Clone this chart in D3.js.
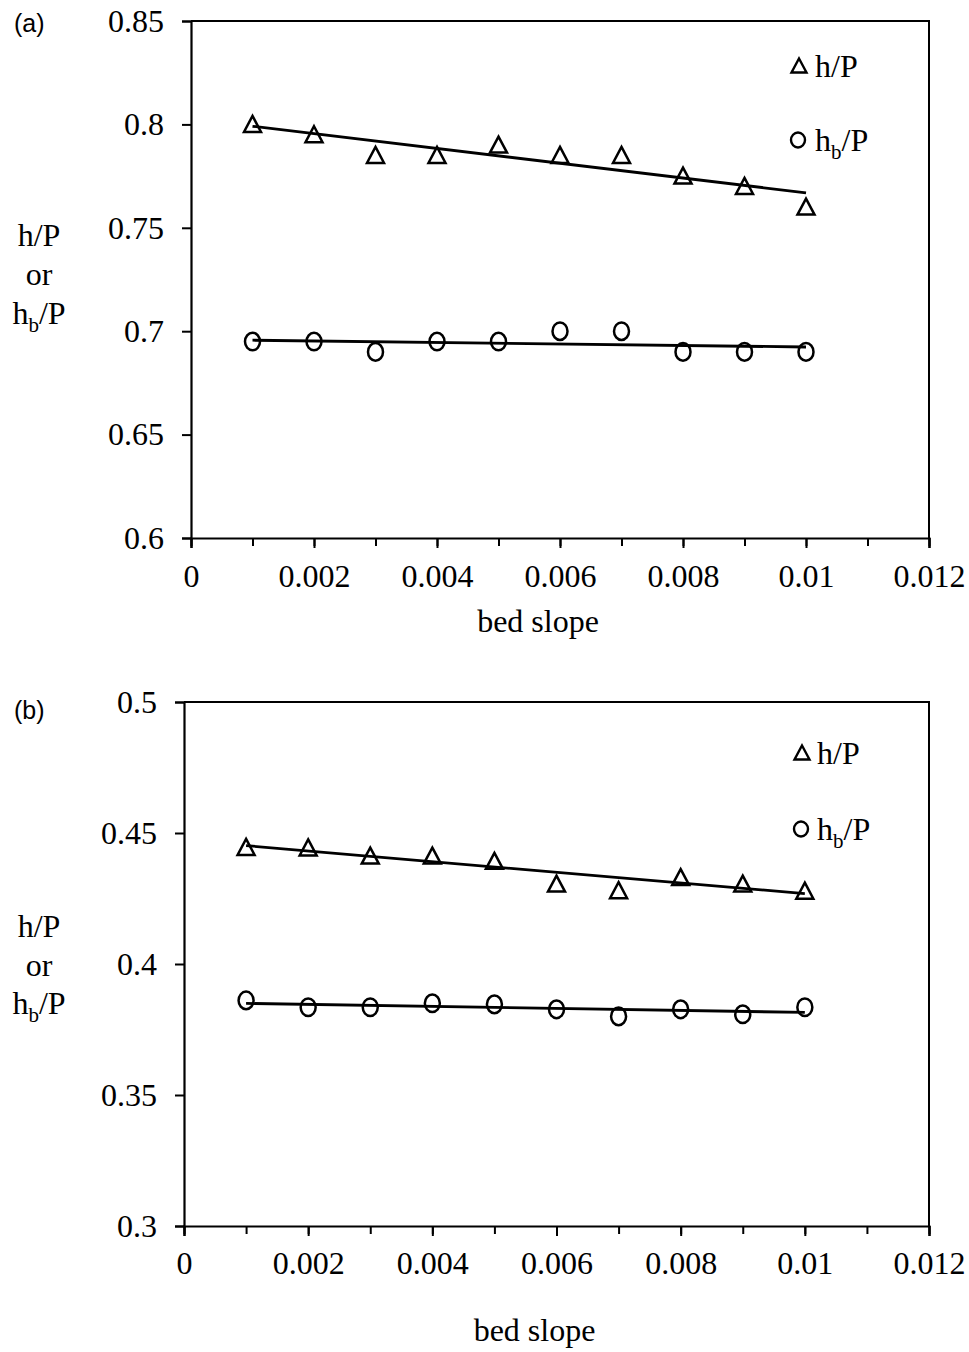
<!DOCTYPE html>
<html>
<head>
<meta charset="utf-8">
<script src="https://cdn.jsdelivr.net/npm/d3@7/dist/d3.min.js"></script>
<style>
  html, body { margin: 0; padding: 0; background: #fff; }
  svg { display: block; }
  .serif { font-family: "Liberation Serif", "Times New Roman", serif; fill: #000; }
</style>
</head>
<body>
<svg id="chart" width="969" height="1352"></svg>
<script>
// ---- data ----
const bedSlope = [0.001, 0.002, 0.003, 0.004, 0.005, 0.006, 0.007, 0.008, 0.009, 0.010];
const xTicks = [0, 0.002, 0.004, 0.006, 0.008, 0.01, 0.012];
const xTickLabels = ["0", "0.002", "0.004", "0.006", "0.008", "0.01", "0.012"];

// panel (a)
const aHP  = [0.800, 0.795, 0.785, 0.785, 0.790, 0.785, 0.785, 0.775, 0.770, 0.760];
const aHbP = [0.695, 0.695, 0.690, 0.695, 0.695, 0.700, 0.700, 0.690, 0.690, 0.690];
const aYTicks = [0.6, 0.65, 0.7, 0.75, 0.8, 0.85];
const aYTickLabels = ["0.6", "0.65", "0.7", "0.75", "0.8", "0.85"];

// panel (b)
const bHP  = [0.4445, 0.4443, 0.4412, 0.4412, 0.4392, 0.4305, 0.4280, 0.4330, 0.4305, 0.4278];
const bHbP = [0.3861, 0.3835, 0.3835, 0.3850, 0.3846, 0.3827, 0.3800, 0.3827, 0.3808, 0.3835];
const bYTicks = [0.3, 0.35, 0.4, 0.45, 0.5];
const bYTickLabels = ["0.3", "0.35", "0.4", "0.45", "0.5"];

const SERIF = '"Liberation Serif", "Times New Roman", serif';
const svg = d3.select("#chart");

function linFit(xs, ys) {
  const n = xs.length;
  const mx = d3.mean(xs), my = d3.mean(ys);
  let sxy = 0, sxx = 0;
  for (let i = 0; i < n; i++) { sxy += (xs[i]-mx)*(ys[i]-my); sxx += (xs[i]-mx)*(xs[i]-mx); }
  const b = sxy / sxx;
  const a = my - b * mx;
  return x => a + b * x;
}

function triPath(cx, cy, w, h) {
  return `M${cx},${cy - h/2 - 1}L${cx + w/2},${cy + h/2}L${cx - w/2},${cy + h/2}Z`;
}

function panel(opts) {
  const g = svg.append("g");
  const x = d3.scaleLinear().domain([0, 0.012]).range([opts.left, opts.right]);
  const y = d3.scaleLinear().domain(opts.yDomain).range([opts.bottom, opts.top]);

  // frame top and right
  g.append("path")
    .attr("d", `M${opts.left},${opts.top}H${opts.right}V${opts.bottom}`)
    .attr("fill", "none").attr("stroke", "#000").attr("stroke-width", 2);

  // y axis
  const yAxis = d3.axisLeft(y).tickValues(opts.yTicks)
    .tickFormat((d, i) => opts.yTickLabels[i]).tickSize(9).tickPadding(18);
  const ya = g.append("g").attr("transform", `translate(${opts.left},0)`).call(yAxis)
    .attr("font-family", SERIF).attr("font-size", 32);
  ya.select(".domain").attr("stroke-width", 2.2);
  ya.selectAll(".tick line").attr("stroke-width", 2);
  ya.selectAll("text").attr("font-family", SERIF).attr("font-size", 32).attr("fill", "#000");

  // x axis: minor ticks
  const minor = d3.range(0, 0.0121, 0.001);
  const xMinor = d3.axisBottom(x).tickValues(minor).tickFormat("").tickSize(8);
  const xm = g.append("g").attr("transform", `translate(0,${opts.bottom})`).call(xMinor);
  xm.select(".domain").remove();
  xm.selectAll(".tick line").attr("stroke-width", 2);

  const xAxis = d3.axisBottom(x).tickValues(xTicks)
    .tickFormat((d, i) => xTickLabels[i]).tickSize(10).tickPadding(opts.xPad);
  const xa = g.append("g").attr("transform", `translate(0,${opts.bottom})`).call(xAxis)
    .attr("font-family", SERIF).attr("font-size", 32);
  xa.select(".domain").attr("stroke-width", 2.2);
  xa.selectAll(".tick line").attr("stroke-width", 2);
  xa.selectAll("text").attr("font-family", SERIF).attr("font-size", 32).attr("fill", "#000");

  // trend lines
  [opts.hp, opts.hbp].forEach(vals => {
    const f = linFit(bedSlope, vals);
    g.append("line")
      .attr("x1", x(bedSlope[0])).attr("y1", y(f(bedSlope[0])))
      .attr("x2", x(bedSlope[bedSlope.length-1])).attr("y2", y(f(bedSlope[bedSlope.length-1])))
      .attr("stroke", "#000").attr("stroke-width", 2.8);
  });

  // markers
  g.selectAll(".tri").data(opts.hp).enter().append("path")
    .attr("d", (d, i) => triPath(x(bedSlope[i]), y(d), 17, 15))
    .attr("fill", "none").attr("stroke", "#000").attr("stroke-width", 2.5);
  g.selectAll(".circ").data(opts.hbp).enter().append("ellipse")
    .attr("cx", (d, i) => x(bedSlope[i])).attr("cy", d => y(d))
    .attr("rx", 7.5).attr("ry", 8.8)
    .attr("fill", "none").attr("stroke", "#000").attr("stroke-width", 2.5);

  // panel label
  g.append("text").attr("x", 14).attr("y", opts.labelY)
    .attr("font-family", '"Liberation Sans", Arial, sans-serif')
    .attr("font-size", 25).attr("fill", "#000").text(opts.label);

  // x title
  g.append("text").attr("class", "serif")
    .attr("x", (opts.left + opts.right) / 2 - 22).attr("y", opts.xTitleY)
    .attr("text-anchor", "middle").attr("font-size", 32).text("bed slope");

  // y title
  const yt = g.append("g").attr("class", "serif").attr("text-anchor", "middle").attr("font-size", 32);
  yt.append("text").attr("x", 39).attr("y", opts.yTitleY[0]).text("h/P");
  yt.append("text").attr("x", 39).attr("y", opts.yTitleY[1]).text("or");
  const t3 = yt.append("text").attr("x", 39).attr("y", opts.yTitleY[2]);
  t3.append("tspan").text("h");
  t3.append("tspan").attr("font-size", 21).attr("dy", 8).text("b");
  t3.append("tspan").attr("dy", -8).text("/P");

  // legend
  const lg = opts.legend;
  g.append("path").attr("d", triPath(lg.mx, lg.y1, 15, 13)).attr("fill", "none")
    .attr("stroke", "#000").attr("stroke-width", 2.4);
  g.append("text").attr("class", "serif").attr("x", lg.tx).attr("y", lg.y1 + 11)
    .attr("font-size", 32).text("h/P");
  g.append("ellipse").attr("cx", lg.mx - 1).attr("cy", lg.y2).attr("rx", 7).attr("ry", 7.5)
    .attr("fill", "none").attr("stroke", "#000").attr("stroke-width", 2.4);
  const lt = g.append("text").attr("class", "serif").attr("x", lg.tx).attr("y", lg.y2 + 11)
    .attr("font-size", 32);
  lt.append("tspan").text("h");
  lt.append("tspan").attr("font-size", 21).attr("dy", 8).text("b");
  lt.append("tspan").attr("dy", -8).text("/P");
}

panel({
  left: 191, right: 929, top: 21, bottom: 538,
  yDomain: [0.6, 0.85], yTicks: aYTicks, yTickLabels: aYTickLabels,
  hp: aHP, hbp: aHbP, xPad: 16,
  label: "(a)", labelY: 32, xTitleY: 632,
  yTitleY: [246, 285, 324],
  legend: { mx: 799, tx: 815, y1: 66, y2: 140 }
});

panel({
  left: 184, right: 929, top: 702, bottom: 1226,
  yDomain: [0.3, 0.5], yTicks: bYTicks, yTickLabels: bYTickLabels,
  hp: bHP, hbp: bHbP, xPad: 15,
  label: "(b)", labelY: 719, xTitleY: 1341,
  yTitleY: [937, 976, 1014],
  legend: { mx: 802, tx: 817, y1: 753, y2: 829 }
});
</script>
</body>
</html>
